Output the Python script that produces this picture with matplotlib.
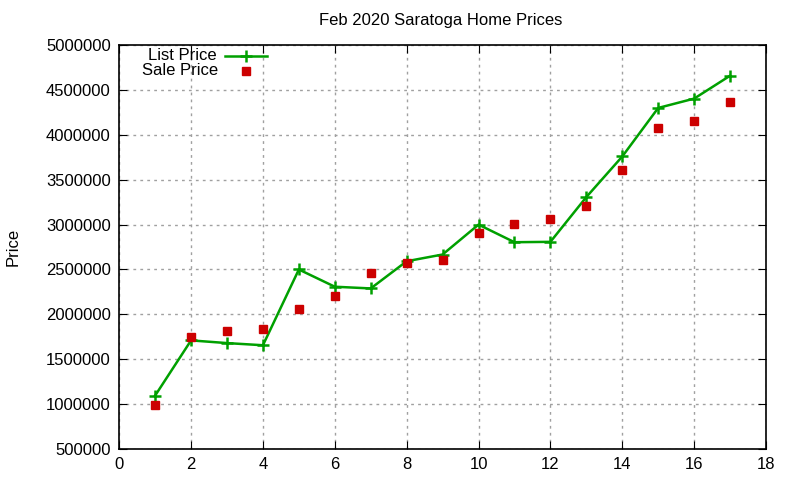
import matplotlib
matplotlib.use('Agg')
import matplotlib.pyplot as plt

# values
house = list(range(1, 18))
list_price = [1095000, 1710000, 1680000, 1656000, 2500000, 2308000, 2289000, 2592000, 2667000,
              3000000, 2804000, 2808000, 3307000, 3759000, 4300000, 4404000, 4659000]
sale_price = [995000, 1745000, 1811000, 1837000, 2059000, 2204000, 2459000, 2570000, 2607000,
              2903000, 3004000, 3059000, 3204000, 3604000, 4081000, 4159000, 4370000]
xticks = list(range(0, 19, 2))
yticks = list(range(500000, 5000001, 500000))

green = '#00a000'
red = '#cc0000'

plt.rcParams['font.family'] = ['Liberation Sans', 'DejaVu Sans']
fig = plt.figure(figsize=(8, 4.8), dpi=100)
ax = fig.add_axes([0.149, 0.0646, 0.8085, 0.8414])

ax.plot(house, list_price, color=green, lw=1.8, marker='+', ms=8, mew=1.8)
ax.plot(house, sale_price, ls='none', color=red, marker='s', ms=6)

ax.set_xlim(0, 18)
ax.set_ylim(500000, 5000000)
ax.set_xticks(xticks)
ax.set_yticks(yticks)
ax.set_yticklabels([str(v) for v in yticks])
ax.tick_params(direction='in', top=True, right=True, labelsize=12, length=6, pad=6)
ax.grid(True, color='#a0a0a0', ls=(0, (2, 3)), lw=1)
for s in ax.spines.values():
    s.set_linewidth(1.2)

fig.text(0.551, 0.958, 'Feb 2020 Saratoga Home Prices', ha='center', va='center', fontsize=12)
fig.text(0.016, 0.485, 'Price', rotation=90, ha='center', va='center', fontsize=12)

# gnuplot-style key: right-aligned labels, sample to the right
ax.text(0.150, 0.9735, 'List Price', transform=ax.transAxes, ha='right', va='center', fontsize=12)
ax.text(0.153, 0.9364, 'Sale Price', transform=ax.transAxes, ha='right', va='center', fontsize=12)
ax.plot([0.1638, 0.2287], [0.9735, 0.9735], transform=ax.transAxes, color=green, lw=1.8, clip_on=False)
ax.plot([0.1963], [0.9735], transform=ax.transAxes, color=green, marker='+', ms=8, mew=1.8, clip_on=False)
ax.plot([0.1963], [0.9364], transform=ax.transAxes, color=red, marker='s', ms=6, ls='none', clip_on=False)

fig.savefig('out.png', dpi=100)
